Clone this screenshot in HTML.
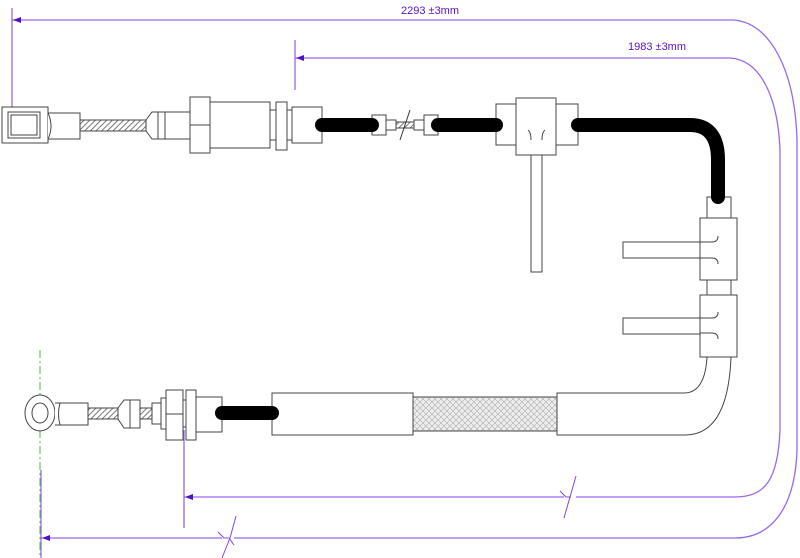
<!DOCTYPE html>
<html><head><meta charset="utf-8"><style>
html,body{margin:0;padding:0;background:#fff;width:800px;height:558px;overflow:hidden}
svg{display:block}
text{font-family:"Liberation Sans",sans-serif;font-size:11px;fill:#5a10c8}
</style></head><body>
<svg width="800" height="558" viewBox="0 0 800 558" xmlns="http://www.w3.org/2000/svg">
<defs>
<pattern id="hat" width="4" height="4" patternUnits="userSpaceOnUse" patternTransform="rotate(45)">
<rect width="4" height="4" fill="#fff"/><line x1="0" y1="0" x2="0" y2="4" stroke="#555" stroke-width="1.6"/></pattern>
<pattern id="braid" width="6" height="6" patternUnits="userSpaceOnUse">
<rect width="6" height="6" fill="#eee"/><path d="M0 6L6 0M0 0L6 6" stroke="#aaa" stroke-width="0.6"/></pattern>
</defs>
<g fill="none" stroke="#9a66ee" stroke-width="1.3">
<line x1="12" y1="8" x2="12" y2="108"/>
<line x1="295" y1="40" x2="295" y2="90"/>
<path d="M12 20 H733 C770 22 795 70 797 140 V450 C795 510 770 538 735 538 H41"/>
<path d="M295 58 H730 C762 60 778 100 780 150 V430 C778 480 765 497 735 497 H184"/>
<line x1="184" y1="430" x2="184" y2="528"/>
<line x1="41" y1="470" x2="41" y2="558"/>
</g>
<rect x="222" y="525" width="12" height="26" fill="#fff"/>
<rect x="564" y="485" width="12" height="26" fill="#fff"/>
<g fill="none" stroke="#8844dd" stroke-width="1">
<path d="M218 532 L224 538 H229 L234 545 M236 516 L230 538 L222 558"/>
<path d="M560 491 L566 497 H571 M576 476 L570 497 L564 518"/>
</g>
<g fill="#5010c8">
<path d="M13 20 l8 -3 v6z"/><path d="M296 58 l8 -3 v6z"/><path d="M185 497 l8 -3 v6z"/><path d="M42 538 l8 -3 v6z"/>
</g>
<text x="401" y="14">2293 ±3mm</text>
<text x="628" y="50">1983 ±3mm</text>
<line x1="40" y1="350" x2="40" y2="558" stroke="#44bb44" stroke-width="1" stroke-dasharray="8,3,2,3"/>
<g stroke="#444" stroke-width="1" fill="#fff">
<!-- top left -->
<rect x="2" y="107" width="46" height="36"/><rect x="8" y="112" width="32" height="26"/><rect x="11" y="115" width="26" height="20"/>
<path d="M48 113 H80 V139 H48"/><path d="M48 113 Q54 126 48 139"/>
<rect x="80" y="120" width="66" height="11" fill="url(#hat)"/>
<path d="M146 120 L152 112 H165 V139 H152 L146 131Z"/><line x1="158" y1="112" x2="158" y2="139"/>
<rect x="165" y="112" width="25" height="27"/>
<rect x="190" y="97" width="20" height="56"/><line x1="190" y1="125" x2="210" y2="125"/>
<rect x="210" y="102" width="60" height="46"/>
<rect x="270" y="110" width="6" height="30"/>
<rect x="276" y="102" width="11" height="48"/>
<rect x="287" y="110" width="5" height="30"/>
<rect x="292" y="107" width="30" height="36"/>
<!-- crimp -->
<rect x="372" y="115" width="14" height="20"/><rect x="386" y="120" width="10" height="10"/><rect x="396" y="122" width="18" height="6" fill="url(#hat)"/>
<rect x="414" y="120" width="10" height="10"/><rect x="424" y="115" width="14" height="20"/>
<!-- grommet -->
<rect x="496" y="104" width="20" height="41"/><rect x="556" y="104" width="22" height="41"/>
<rect x="531" y="140" width="11" height="132"/>
<rect x="516" y="98" width="40" height="57"/>
<path d="M528 130 Q531 132 531 140 M545 130 Q542 132 542 140" fill="none"/>
<!-- right clips -->
<rect x="707" y="197" width="24" height="22"/>
<rect x="707" y="280" width="24" height="16"/>
<rect x="623" y="242" width="80" height="16"/><rect x="623" y="318" width="80" height="16"/>
<rect x="700" y="218" width="37" height="62"/><rect x="700" y="295" width="37" height="62"/>
<path d="M700 242 H712 Q718 242 718 236 M700 258 H712 Q718 258 718 264 M700 318 H712 Q718 318 718 312 M700 333 H712 Q718 333 718 339" fill="none"/>
<!-- lower sheath -->
<rect x="272" y="393" width="141" height="42"/>
<rect x="413" y="397" width="144" height="34" fill="url(#braid)"/>
<path d="M557 393 H685 Q705 392 707 357 H731 Q728 435 685 435 H557Z"/>
<!-- bottom left -->
<ellipse cx="40" cy="413" rx="15" ry="18"/><ellipse cx="40" cy="413" rx="8" ry="10"/>
<path d="M55 403 H88 V425 H55"/><path d="M60 403 Q57 414 60 425" fill="none"/>
<rect x="88" y="408" width="30" height="11" fill="url(#hat)"/>
<path d="M118 408 L124 400 H140 V428 H124 L118 419Z"/><line x1="130" y1="400" x2="130" y2="428"/>
<rect x="140" y="408" width="12" height="11" fill="url(#hat)"/>
<rect x="152" y="403" width="9" height="21"/>
<rect x="161" y="398" width="5" height="31"/>
<rect x="166" y="390" width="17" height="50"/><line x1="166" y1="414" x2="183" y2="414"/>
<rect x="183" y="400" width="3" height="27"/>
<rect x="186" y="390" width="10" height="50"/>
<rect x="196" y="397" width="26" height="35"/>
</g>
<g stroke="#000" stroke-width="14" stroke-linecap="round" fill="none">
<line x1="322" y1="125" x2="372" y2="125"/>
<line x1="438" y1="125" x2="496" y2="125"/>
<path d="M578 125 H690 Q718 125 718 160 V197"/>
<line x1="222" y1="413" x2="272" y2="413"/>
</g>
<line x1="400" y1="140" x2="410" y2="110" stroke="#333" stroke-width="1"/>
</svg>
</body></html>
